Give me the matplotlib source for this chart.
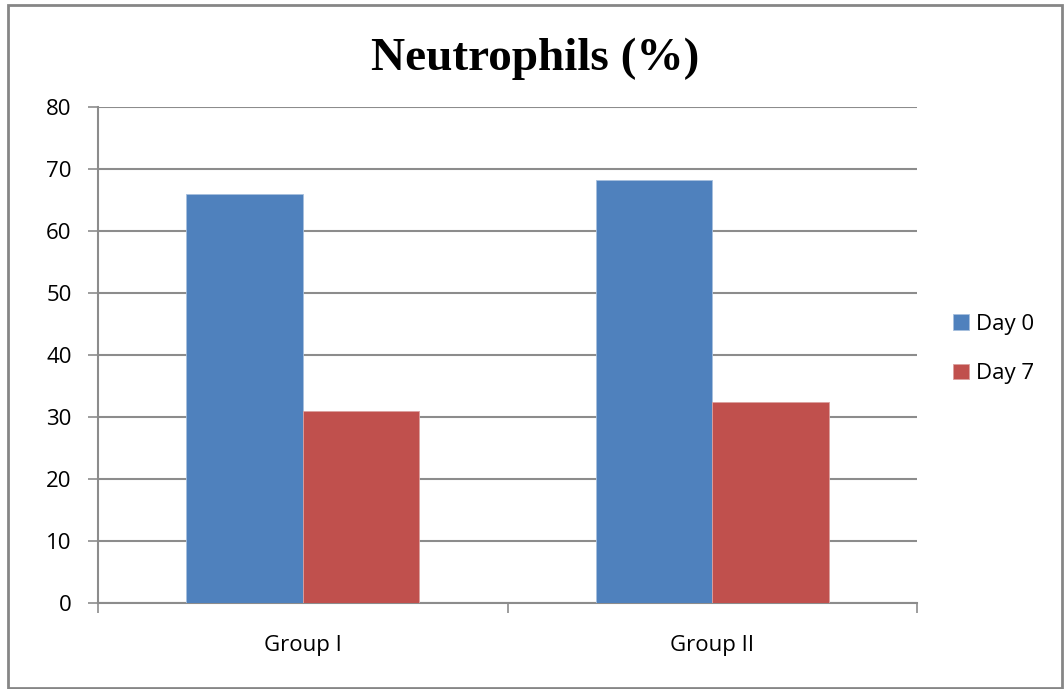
import numpy as np
import matplotlib.pyplot as plt
from matplotlib.patches import Rectangle

groups = ['Group I', 'Group II']
day0 = [65.9, 68.2]
day7 = [31.0, 32.5]
series_names = ['Day 0', 'Day 7']

blue = '#4F81BD'
red = '#C0504D'
grid_col = '#8C8C8C'

fig = plt.figure(figsize=(10.64, 6.89), dpi=100)
ax = fig.add_axes([98 / 1064, 1 - 603 / 689, (917 - 98) / 1064, (603 - 107) / 689])

x = np.arange(len(groups))
w = 0.285
ax.bar(x - w / 2, day0, w, color=blue, edgecolor='#A7C0DE', linewidth=0.6, label=series_names[0], zorder=3)
ax.bar(x + w / 2, day7, w, color=red, edgecolor='#DBA09E', linewidth=0.6, label=series_names[1], zorder=3)

ax.set_xlim(-0.5, 1.5)
ax.set_ylim(0, 80)
ax.set_yticks(range(0, 81, 10))
ax.yaxis.grid(True, color=grid_col, linewidth=1.5, zorder=0)
ax.set_axisbelow(True)

# category labels between boundary ticks
ax.set_xticks([-0.5, 0.5, 1.5])
ax.set_xticklabels([])
ax.set_xticks(x, minor=True)
ax.set_xticklabels(groups, minor=True)
ax.tick_params(axis='x', which='minor', length=0, pad=23, labelsize=16)
ax.tick_params(axis='x', which='major', length=7, width=1.2, color=grid_col, direction='out')
ax.tick_params(axis='y', length=7, width=1.2, color=grid_col, labelsize=16, pad=12)

for s in ['top', 'right']:
    ax.spines[s].set_visible(False)
for s in ['left', 'bottom']:
    ax.spines[s].set_color(grid_col)
    ax.spines[s].set_linewidth(1.5)

for lab in ax.get_xticklabels(minor=True) + ax.get_yticklabels():
    lab.set_family('Open Sans')

fig.text(535 / 1064, 1 - 59 / 689, 'Neutrophils (%)', ha='center', va='center',
         fontsize=34, fontweight='bold', family='Liberation Serif')

fig.legend(loc='center left', bbox_to_anchor=(933 / 1064, 1 - 349 / 689), frameon=False,
           handlelength=0.7, handleheight=0.7, handletextpad=0.35, labelspacing=1.3,
           prop={'family': 'Open Sans', 'size': 16})

fig.patches.append(Rectangle((8 / 1064, 1 / 689), 1054 / 1064, 683 / 689, transform=fig.transFigure,
                             fill=False, edgecolor='#868686', linewidth=2))

fig.savefig('out.png', dpi=100)
